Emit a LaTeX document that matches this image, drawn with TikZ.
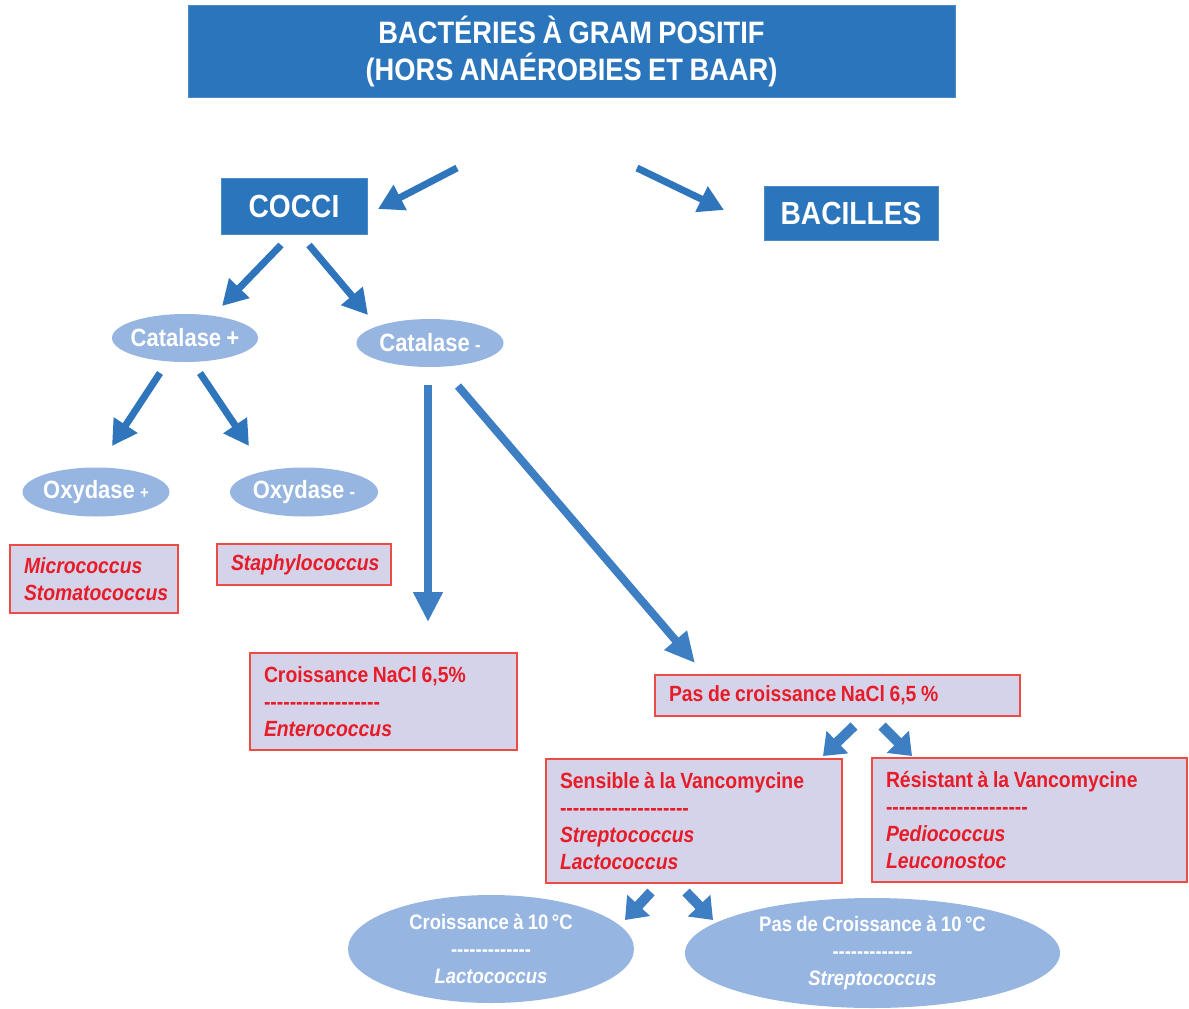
\documentclass[tikz,border=0pt]{standalone}
\usepackage{fontspec}
\setmainfont{Liberation Sans}[FakeStretch=0.88, WordSpace=0.85]
\usetikzlibrary{arrows.meta,shapes.geometric}
\definecolor{titleblue}{RGB}{42,117,187}
\definecolor{arrowblue}{RGB}{46,117,188}
\definecolor{arrowblueb}{RGB}{62,127,195}
\definecolor{ellblue}{RGB}{150,181,224}
\definecolor{lav}{RGB}{212,211,233}
\definecolor{redline}{RGB}{236,76,68}
\definecolor{redtext}{RGB}{232,28,40}
\newcommand\dashrun[1]{\foreach \k in {1,...,#1}{-\kern0pt}}
\begin{document}
\begin{tikzpicture}[x=1pt,y=-1pt,
  bluebox/.style={rectangle, fill=titleblue, draw=titleblue!85!white, line width=0.8pt, text=white, inner sep=0pt, align=center},
  ellnode/.style={ellipse, fill=ellblue, text=white, inner xsep=-6pt, inner ysep=0pt, align=center, font=\bfseries\fontsize{25}{30}\selectfont},
  lowell/.style={ellipse, fill=ellblue, text=white, inner sep=0pt, align=center, font=\bfseries\fontsize{21}{27}\selectfont},
  redbox/.style={rectangle, fill=lav, draw=redline, line width=1.3pt, text=redtext, align=flush left, inner xsep=14pt, inner ysep=0pt, font=\bfseries\fontsize{22}{27}\selectfont},
  arr/.style={draw=arrowblue, line width=7pt, -{Triangle[width=27pt,length=25pt]}},
  arrb/.style={draw=arrowblueb, line width=8pt, -{Triangle[width=28pt,length=30pt]}},
  smallarr/.style={draw=arrowblueb, line width=10pt, -{Triangle[width=30pt,length=20pt]}}
]
\useasboundingbox (0,0) rectangle (1189,1009);

% title
\node[bluebox, minimum width=767pt, minimum height=92pt, font=\bfseries\fontsize{31}{37}\selectfont] (title) at (571.5,51)
  {BACTÉRIES À GRAM POSITIF\\(HORS ANAÉROBIES ET BAAR)};
\node[bluebox, minimum width=146pt, minimum height=56pt, font=\bfseries\fontsize{32}{36}\selectfont] (cocci) at (294,206) {COCCI};
\node[bluebox, minimum width=174pt, minimum height=54pt, font=\bfseries\fontsize{32}{36}\selectfont] (bacilles) at (851,213) {BACILLES};

% catalase
\node[ellnode, minimum width=146pt, minimum height=48pt] (catp) at (185,338) {Catalase +};
\node[ellnode, minimum width=147pt, minimum height=48pt] (catm) at (430,343) {Catalase {\fontsize{19}{19}\selectfont -}};

% oxydase
\node[ellnode, minimum width=147pt, minimum height=49pt] (oxp) at (96,492) {Oxydase {\fontsize{17}{17}\selectfont +}};
\node[ellnode, minimum width=148pt, minimum height=49pt] (oxm) at (304,492) {Oxydase {\fontsize{19}{19}\selectfont -}};

% red boxes
\node[redbox, text width=140pt, minimum height=68pt] (micro) at (94,579)
  {\textit{Micrococcus}\\\textit{Stomatococcus}};
\node[redbox, text width=146pt, minimum height=41pt] (staph) at (304,564.5)
  {\textit{Staphylococcus}};
\node[redbox, text width=239pt, minimum height=97pt] (entero) at (383.5,701.5)
  {Croissance NaCl 6,5\%\\\dashrun{18}\\\textit{Enterococcus}};
\node[redbox, text width=337pt, minimum height=41pt] (pasnacl) at (837.5,695.5)
  {Pas de croissance NaCl 6,5 \%};
\node[redbox, text width=268pt, minimum height=124pt] (sens) at (694,821)
  {Sensible à la Vancomycine\\\dashrun{20}\\\textit{Streptococcus}\\\textit{Lactococcus}};
\node[redbox, text width=287pt, minimum height=124pt] (resist) at (1029.5,820)
  {Résistant à la Vancomycine\\\dashrun{22}\\\textit{Pediococcus}\\\textit{Leuconostoc}};

% bottom ellipses
\node[lowell, minimum width=286pt, minimum height=108pt] (lacto) at (491,949)
  {Croissance à 10\,°C\\\dashrun{13}\\\textit{Lactococcus}};
\node[lowell, minimum width=375pt, minimum height=110pt] (strepto) at (872.5,953)
  {Pas de Croissance à 10\,°C\\\dashrun{13}\\\textit{Streptococcus}};

% arrow end points
\coordinate (t1s) at (457,168);  \coordinate (t1e) at (378,209);
\coordinate (t2s) at (637,168);  \coordinate (t2e) at (724,210);
\coordinate (c1s) at (281,245);  \coordinate (c1e) at (222,306);
\coordinate (c2s) at (309,245);  \coordinate (c2e) at (368,315);
\coordinate (p1s) at (160,373);  \coordinate (p1e) at (112,446);
\coordinate (p2s) at (200,373);  \coordinate (p2e) at (249,446);
\coordinate (m1s) at (428,385);  \coordinate (m1e) at (428,622);
\coordinate (m2s) at (458,386);  \coordinate (m2e) at (695,663);
\coordinate (n1s) at (854,726);  \coordinate (n1e) at (823,756);
\coordinate (n2s) at (882,726);  \coordinate (n2e) at (912,756);
\coordinate (s1s) at (651,892);  \coordinate (s1e) at (625,920);
\coordinate (s2s) at (686,892);  \coordinate (s2e) at (713,920);

\draw[arr] (t1s) -- (t1e);
\draw[arr] (t2s) -- (t2e);
\draw[arr] (c1s) -- (c1e);
\draw[arr] (c2s) -- (c2e);
\draw[arr] (p1s) -- (p1e);
\draw[arr] (p2s) -- (p2e);
\draw[arrb] (m1s) -- (m1e);
\draw[arrb] (m2s) -- (m2e);
\draw[smallarr] (n1s) -- (n1e);
\draw[smallarr] (n2s) -- (n2e);
\draw[smallarr] (s1s) -- (s1e);
\draw[smallarr] (s2s) -- (s2e);
\end{tikzpicture}
\end{document}
